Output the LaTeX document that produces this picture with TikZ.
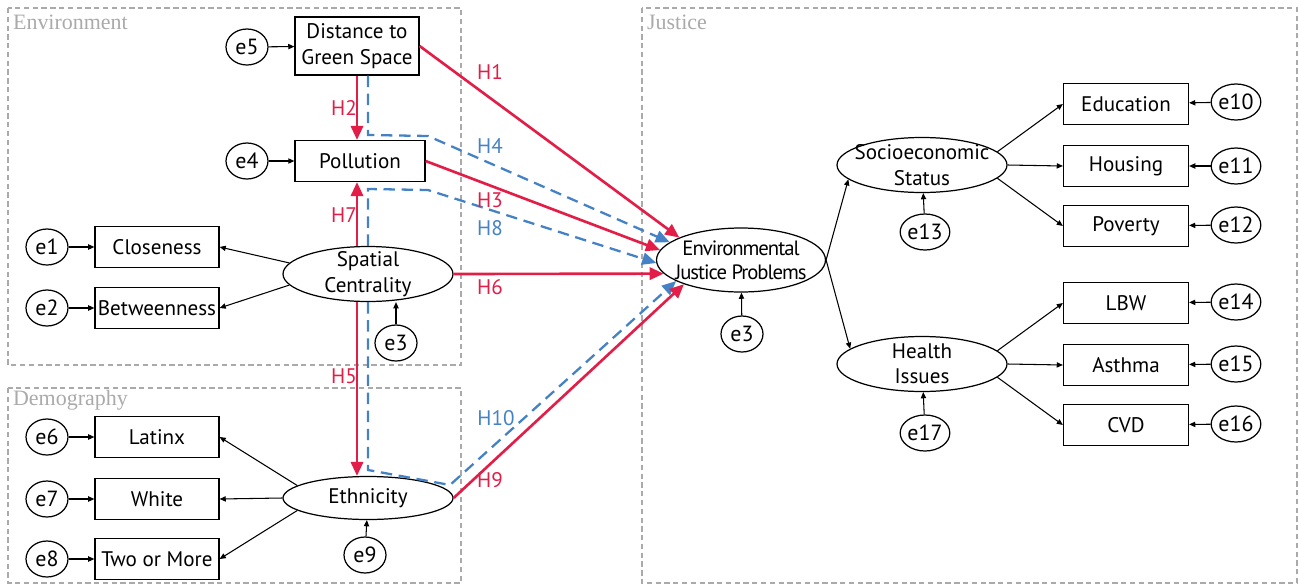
\documentclass[tikz,border=0pt]{standalone}
\usepackage{fontspec}
\setmainfont{PT Sans}
\newfontfamily\titlefont{Liberation Serif}
\usetikzlibrary{shapes}
\usetikzlibrary{positioning}
\usetikzlibrary{arrows.meta}
\definecolor{hypred}{RGB}{226,30,72}
\definecolor{hypblue}{RGB}{68,130,197}
\definecolor{framegray}{RGB}{170,170,170}
\tikzset{
    myobs/.style = {rectangle, draw=black, line width=0.7pt, fill=white, align=center, minimum width=2.48cm, minimum height=0.82cm, inner xsep=0pt, font=\fontsize{12}{14.5}\selectfont},
    mylat/.style = {ellipse, draw=black, line width=0.7pt, fill=white, align=center, minimum width=3.4cm, minimum height=1.1cm, inner xsep=-0.25cm, inner ysep=-0.15cm, font=\fontsize{12}{14.5}\selectfont},
    myerr/.style = {ellipse, draw=black, line width=0.7pt, fill=white, minimum width=0.84cm, minimum height=0.72cm, inner sep=0pt, font=\fontsize{12.5}{14.5}\selectfont},
    mytitle/.style = {anchor=west, inner sep=1pt, text=framegray, font=\titlefont\fontsize{12.5}{14}\selectfont},
    myframe/.style = {draw=framegray, line width=0.6pt, dash pattern=on 3pt off 2pt},
    hlabr/.style = {text=hypred, font=\fontsize{12}{14.5}\selectfont},
    hlabb/.style = {text=hypblue, font=\fontsize{12}{14.5}\selectfont},
    edgen/.style = {-{Triangle[length=3.5pt,width=3pt]}, line width=0.6pt, black},
    edger/.style = {-{Triangle[length=8pt,width=7pt]}, line width=1.5pt, hypred},
    edgeb/.style = {-{Triangle[length=8pt,width=7pt]}, line width=1.3pt, hypblue, dash pattern=on 6.5pt off 3.8pt}, % mediation
}

\begin{document}
\begin{tikzpicture}[x=0.02cm, y=-0.02cm]
\useasboundingbox (0,0) rectangle (1299,585);

% groups
\draw[myframe] (8,8) rectangle (461,365);
\draw[myframe] (8,388) rectangle (461,583);
\draw[myframe] (642,8) rectangle (1297,583);
\node[mytitle] (tenv) at (11,22) {Environment};
\node[mytitle] (tdem) at (11,400) {Demography};
\node[mytitle] (tjus) at (645,22) {Justice};

% environment
\node[myobs, minimum height=1.16cm] at (357,46) (dist) {Distance to\\Green Space};
\node[myobs, minimum width=2.6cm] at (360,161) (poll) {Pollution};
\node[myobs] at (157,247) (clo) {Closeness};
\node[myobs] at (157,308) (betw) {Betweenness};
\node[mylat] at (368,274) (sc) {Spatial\\Centrality};
\node[myerr] at (247,47) (e5) {e5};
\node[myerr] at (247,161) (e4) {e4};
\node[myerr] at (47,247) (e1) {e1};
\node[myerr] at (47,308) (e2) {e2};
\node[myerr] at (396,343) (e3a) {e3};

% demography
\node[myobs] at (157,437) (lat) {Latinx};
\node[myobs] at (157,499) (whi) {White};
\node[myobs] at (157,559) (two) {Two or More};
\node[mylat, minimum height=0.86cm] at (368,498) (eth) {Ethnicity};
\node[myerr] at (47,437) (e6) {e6};
\node[myerr] at (47,499) (e7) {e7};
\node[myerr] at (47,559) (e8) {e8};
\node[myerr] at (365,555) (e9) {e9};

% justice
\node[mylat, minimum width=3.38cm, minimum height=1.28cm, font=\fontsize{11.8}{13.5}\selectfont\addfontfeature{LetterSpace=-5}] at (741,260) (ejp) {Environmental\\Justice Problems};
\node[myerr] at (742,334) (e3b) {e3};
\node[mylat] at (922,165) (soc) {Socioeconomic\\Status};
\node[mylat] at (922,364) (hi) {Health\\Issues};
\node[myerr] at (925,232) (e13) {e13};
\node[myerr] at (925,433) (e17) {e17};
\node[myobs, minimum width=2.5cm] at (1126,104) (edu) {Education};
\node[myobs, minimum width=2.5cm] at (1126,166) (hou) {Housing};
\node[myobs, minimum width=2.5cm] at (1126,226) (pov) {Poverty};
\node[myobs, minimum width=2.5cm] at (1126,303) (lbw) {LBW};
\node[myobs, minimum width=2.5cm] at (1126,365) (ast) {Asthma};
\node[myobs, minimum width=2.5cm] at (1126,425) (cvd) {CVD};
\node[myerr] at (1236,102) (e10) {e10};
\node[myerr] at (1236,166) (e11) {e11};
\node[myerr] at (1236,225) (e12) {e12};
\node[myerr] at (1236,302) (e14) {e14};
\node[myerr] at (1236,364) (e15) {e15};
\node[myerr] at (1236,424) (e16) {e16};

% measurement paths
\draw[edgen] (e5) -- (dist);
\draw[edgen] (e4) -- (poll);
\draw[edgen] (e1) -- (clo);
\draw[edgen] (e2) -- (betw);
\draw[edgen] (sc.172) -- (clo.east);
\draw[edgen] (sc.188) -- (betw.east);
\draw[edgen] (e3a) -- (e3a |- sc.south);
\draw[edgen] (e6) -- (lat);
\draw[edgen] (e7) -- (whi);
\draw[edgen] (e8) -- (two);
\draw[edgen] (eth.170) -- (lat.east);
\draw[edgen] (eth.west) -- (whi.east);
\draw[edgen] (eth.190) -- (two.east);
\draw[edgen] (e9) -- (eth);
\draw[edgen] (e3b) -- (ejp);
\draw[edgen] (ejp.east) -- (soc.191);
\draw[edgen] (ejp.east) -- (hi.168);
\draw[edgen] (e13) -- (soc);
\draw[edgen] (e17) -- (hi);
\draw[edgen] (soc.10) -- (edu.west);
\draw[edgen] (soc.east) -- (hou.west);
\draw[edgen] (soc.-10) -- (pov.west);
\draw[edgen] (hi.10) -- (lbw.west);
\draw[edgen] (hi.east) -- (ast.west);
\draw[edgen] (hi.-10) -- (cvd.west);
\draw[edgen] (e10) -- (edu);
\draw[edgen] (e11) -- (hou);
\draw[edgen] (e12) -- (pov);
\draw[edgen] (e14) -- (lbw);
\draw[edgen] (e15) -- (ast);
\draw[edgen] (e16) -- (cvd);

% hypotheses
\draw[edgeb] (sc.north |- dist.south) -- (368,135) -- (428,136) -- (ejp.166);
\draw[edgeb] (sc.north) -- (368,189) -- (428,190) -- (ejp.182);
\draw[edgeb] (sc.south) -- (368,470) -- (450,485) -- (ejp.198);
\draw[edger] (dist.east) -- (ejp.160);
\draw[edger] (dist.south) -- (dist.south |- poll.north);
\draw[edger] (poll.east) -- (ejp.173);
\draw[edger] (sc.north -| dist.south) -- (poll.south -| dist.south);
\draw[edger] (sc.south -| dist.south) -- (eth.north -| dist.south);
\draw[edger] (sc.east) -- (ejp.190);
\draw[edger] (eth.east) -- (ejp.203);

\node[hlabr] at (490,72) (h1) {H1};
\node[hlabr] at (344,108) (h2) {H2};
\node[hlabb] at (490,146) (h4) {H4};
\node[hlabr] at (490,200) (h3) {H3};
\node[hlabr] at (344,215) (h7) {H7};
\node[hlabb] at (490,228) (h8) {H8};
\node[hlabr] at (490,287) (h6) {H6};
\node[hlabr] at (344,376) (h5) {H5};
\node[hlabb] at (496,418) (h10) {H10};
\node[hlabr] at (490,480) (h9) {H9};

\end{tikzpicture}
\end{document}
